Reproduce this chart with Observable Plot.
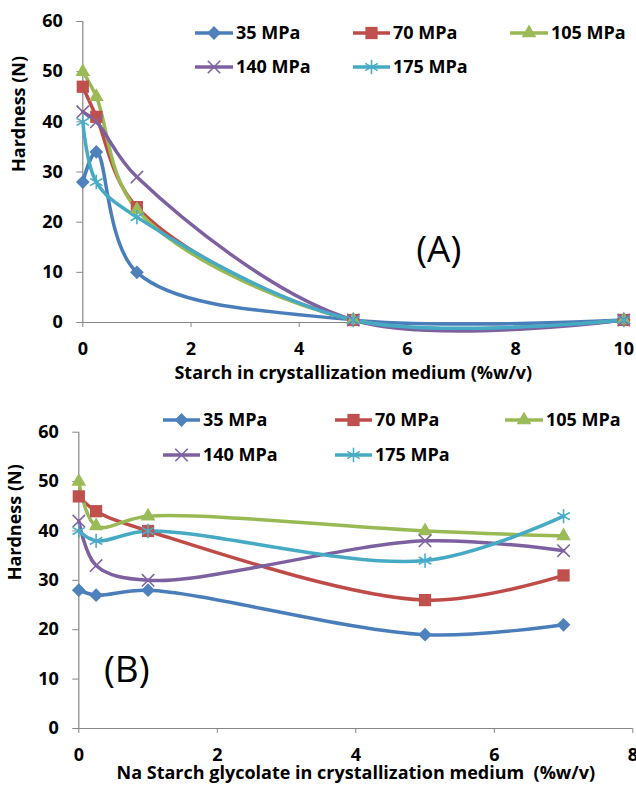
<!DOCTYPE html>
<html><head><meta charset="utf-8">
<script src="https://cdn.jsdelivr.net/npm/d3@7"></script>
<script src="https://cdn.jsdelivr.net/npm/@observablehq/plot@0.6"></script>
<style>
body{margin:0;background:#fff;}
#root{position:relative;width:636px;height:785px;overflow:hidden;font-family:"Open Sans",sans-serif;}
#root svg{position:absolute;left:0;}
</style></head><body><div id="root"></div>
<script>
// ---- data ----
const pressures = ["35 MPa", "70 MPa", "105 MPa", "140 MPa", "175 MPa"];
const lineColors = ["#4A7EBB", "#BE4B48", "#98B954", "#7D60A0", "#46AAC5"];
const markerColors = ["#4F81BD", "#C0504D", "#9BBB59", "#8064A2", "#4BACC6"];
const symbols = ["diamond2", "square2", "triangle2", "times", "asterisk"];
const markerR = [6.2, 7.8, 7.0, 5.7, 6.8];
const filled = [true, true, true, false, false];

const starchX = [0, 0.25, 1, 5, 10];
const starch35 = [28, 34, 10, 0.5, 0.5];
const starch70 = [47, 41, 23, 0.5, 0.5];
const starch105 = [50, 45, 22.5, 0.5, 0.5];
const starch140 = [42, 40, 29, 0.5, 0.5];
const starch175 = [40, 28, 21, 0.5, 0.5];

const sgX = [0, 0.25, 1, 5, 7];
const sg35 = [28, 27, 28, 19, 21];
const sg70 = [47, 44, 40, 26, 31];
const sg105 = [50, 41, 43, 40, 39];
const sg140 = [42, 33, 30, 38, 36];
const sg175 = [40, 38, 40, 34, 43];

const yTicks = [0, 10, 20, 30, 40, 50, 60];
const starchTicks = [0, 2, 4, 6, 8, 10];
const sgTicks = [0, 2, 4, 6, 8];

const titleA = "Starch in crystallization medium (%w/v)";
const titleB = "Na Starch glycolate in crystallization medium\u00a0 (%w/v)";
const yTitle = "Hardness (N)";

const FONT = "'Open Sans', sans-serif";

// ---- helpers ----
function rows(xs, seriesList) {
  const out = [];
  seriesList.forEach((ys, i) => xs.forEach((x, j) => out.push({x, y: ys[j], s: i})));
  return out;
}

function panel({data, xDomain, xTicks, xTitle, tag, height, top, margins, tagPos, titleDx, tickPadX}) {
  const marks = [];
  marks.push(Plot.ruleY([0], {stroke: "#868686", strokeWidth: 1.2}));
  marks.push(Plot.ruleX([0], {stroke: "#868686", strokeWidth: 1.2}));
  marks.push(Plot.axisY({ticks: yTicks, tickSize: 6, tickPadding: 14, stroke: "#868686", color: "#000", label: null, fontWeight: "bold"}));
  marks.push(Plot.axisX({ticks: xTicks, tickSize: 5, tickPadding: tickPadX, stroke: "#868686", color: "#000", label: null, fontWeight: "bold"}));
  pressures.forEach((p, i) => {
    marks.push(Plot.line(data.filter(d => d.s === i), {x: "x", y: "y", stroke: lineColors[i], strokeWidth: 3.5, curve: "catmull-rom"}));
  });
  pressures.forEach((p, i) => {
    const opts = {x: "x", y: "y", symbol: symbols[i], r: markerR[i]};
    if (filled[i]) { opts.fill = markerColors[i]; opts.stroke = "none"; }
    else { opts.stroke = markerColors[i]; opts.strokeWidth = 1.6; opts.fill = "none"; }
    marks.push(Plot.dot(data.filter(d => d.s === i), opts));
  });
  marks.push(Plot.text([xTitle], {frameAnchor: "bottom", lineAnchor: "top", dy: titleDx.dy, dx: titleDx.dx, fontWeight: "bold", fontSize: 18}));
  marks.push(Plot.text([yTitle], {frameAnchor: "left", rotate: -90, dx: -64, fontWeight: "bold", fontSize: 18}));
  marks.push(Plot.text([tag], {frameAnchor: "top-left", dx: tagPos.dx, dy: tagPos.dy, fontSize: 37, fontWeight: "normal", textAnchor: "middle"}));
  const svg = Plot.plot({
    width: 636, height,
    marginTop: margins[0], marginRight: margins[1], marginBottom: margins[2], marginLeft: margins[3],
    x: {domain: xDomain},
    y: {domain: [0, 60]},
    style: {fontFamily: FONT, fontSize: "18px", fontWeight: "bold", background: "transparent", overflow: "visible"},
    marks
  });
  svg.style.top = top + "px";
  return svg;
}

function legend(top, rowsY, colX) {
  const svg = d3.create("svg").attr("width", 636).attr("height", 100)
    .style("top", top + "px").style("position", "absolute").style("left", "0px");
  const positions = [[0, 0], [1, 0], [2, 0], [0, 1], [1, 1]];
  const symMap = {diamond2: d3.symbolDiamond2, square2: d3.symbolSquare2, triangle2: d3.symbolTriangle2, times: d3.symbolTimes, asterisk: d3.symbolAsterisk};
  pressures.forEach((p, i) => {
    const [c, r] = positions[i];
    const [x0, x1] = colX[c];
    const y = rowsY[r];
    const g = svg.append("g");
    g.append("line").attr("x1", x0).attr("x2", x1).attr("y1", y).attr("y2", y)
      .attr("stroke", lineColors[i]).attr("stroke-width", 3.5);
    const path = g.append("path")
      .attr("d", d3.symbol(symMap[symbols[i]], markerR[i] * markerR[i] * Math.PI)())
      .attr("transform", `translate(${(x0 + x1) / 2},${y})`);
    if (filled[i]) path.attr("fill", markerColors[i]);
    else path.attr("fill", "none").attr("stroke", markerColors[i]).attr("stroke-width", 1.6);
    g.append("text").attr("x", x1 + 3).attr("y", y).attr("dy", "0.36em")
      .attr("font-family", FONT).attr("font-weight", "bold").attr("font-size", 18)
      .text(p);
  });
  return svg.node();
}

const root = document.getElementById("root");
const dataA = rows(starchX, [starch35, starch70, starch105, starch140, starch175]);
const dataB = rows(sgX, [sg35, sg70, sg105, sg140, sg175]);

root.appendChild(panel({
  data: dataA, xDomain: [0, 10], xTicks: starchTicks, xTitle: titleA, tag: "(A)",
  height: 390, top: 0, margins: [21, 12.7, 68, 82.3], tagPos: {dx: 356, dy: 214}, titleDx: {dx: 0, dy: 44}, tickPadX: 15
}));
root.appendChild(panel({
  data: dataB, xDomain: [0, 8], xTicks: sgTicks, xTitle: titleB, tag: "(B)",
  height: 395, top: 390, margins: [41.7, 3.7, 57, 78.3], tagPos: {dx: 48, dy: 224}, titleDx: {dx: 0, dy: 38}, tickPadX: 15
}));
root.appendChild(legend(0, [33, 67], [[195, 233], [353, 390], [510, 548]]));
root.appendChild(legend(380, [40, 75], [[163, 200], [335, 372], [505, 543]]));
</script>
</body></html>
